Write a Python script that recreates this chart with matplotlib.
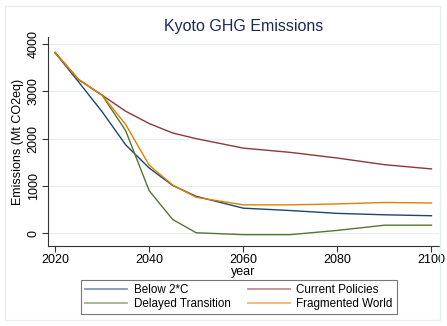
import matplotlib
matplotlib.use("Agg")
import matplotlib.pyplot as plt
from matplotlib.patches import Rectangle

# Kyoto GHG emissions (Mt CO2eq) by scenario
years = [2020, 2025, 2030, 2035, 2040, 2045, 2050, 2060, 2070, 2080, 2090, 2100]
below_2c = [3820, 3200, 2570, 1870, 1380, 1010, 780, 530, 480, 420, 390, 370]
current_policies = [3820, 3250, 2920, 2580, 2320, 2120, 2000, 1800, 1710, 1590, 1450, 1360]
delayed_transition = [3820, 3250, 2920, 2170, 900, 290, 10, -30, -30, 60, 170, 170]
fragmented_world = [3820, 3250, 2920, 2300, 1440, 1020, 760, 600, 600, 620, 650, 640]

series = [
    ("Below 2*C", below_2c, "#1a476f"),
    ("Current Policies", current_policies, "#90353b"),
    ("Delayed Transition", delayed_transition, "#55752f"),
    ("Fragmented World", fragmented_world, "#e37e00"),
]

plt.rcParams['font.family'] = ['Liberation Sans', 'DejaVu Sans']

fig = plt.figure(figsize=(4.47, 3.26), dpi=100)
fig.patch.set_facecolor("white")
# light frame round the whole graph region
fig.patches.append(Rectangle((5/447, 6/326), 435/447, 314/326, transform=fig.transFigure,
                             fill=False, edgecolor="#e6eef0", linewidth=1))

ax = fig.add_axes([48/447, 1 - 246/326, 391/447, 209/326])
lines = {}
for name, vals, col in series:
    lines[name], = ax.plot(years, vals, color=col, linewidth=1.0, label=name)

ax.set_xlim(2018.5, 2101.6)
ax.set_ylim(-270, 4150)
ax.set_xticks([2020, 2040, 2060, 2080, 2100])
ax.set_yticks([0, 1000, 2000, 3000, 4000])
ax.tick_params(axis='y', labelrotation=90, labelsize=9, length=4, width=0.8,
               colors="#333333", pad=2)
ax.tick_params(axis='x', labelsize=9, length=4, width=0.8, colors="#333333", pad=2)
for lab in ax.get_yticklabels():
    lab.set_va('center')
    lab.set_color('black')
for lab in ax.get_xticklabels():
    lab.set_color('black')

ax.grid(axis='y', color="#e6eef0", linewidth=0.8)
ax.set_axisbelow(True)
for s in ("top", "right"):
    ax.spines[s].set_visible(False)
for s in ("left", "bottom"):
    ax.spines[s].set_color("#333333")
    ax.spines[s].set_linewidth(0.8)

ax.set_xlabel("year", fontsize=9, labelpad=0)
ax.set_ylabel("Emissions (Mt CO2eq)", fontsize=9, labelpad=3)
fig.text(0.545, 1 - 26/326, "Kyoto GHG Emissions", ha='center', va='center',
         fontsize=11.5, color="#1a2a55")

# row-wise order like the original: matplotlib fills legend columns first
order = ["Below 2*C", "Delayed Transition", "Current Policies", "Fragmented World"]
leg = fig.legend([lines[n] for n in order], order, loc='center',
                 bbox_to_anchor=(239/447, 1 - 297/326), ncol=2,
                 fontsize=8.4, frameon=True, fancybox=False, edgecolor="#555555",
                 handlelength=3.6, columnspacing=1.5, handletextpad=0.55,
                 labelspacing=0.2, borderpad=0.35, borderaxespad=0)
leg.get_frame().set_linewidth(0.8)
for line in leg.get_lines():
    line.set_alpha(0.55)
    line.set_linewidth(1.3)

fig.savefig("out.png", dpi=100)
